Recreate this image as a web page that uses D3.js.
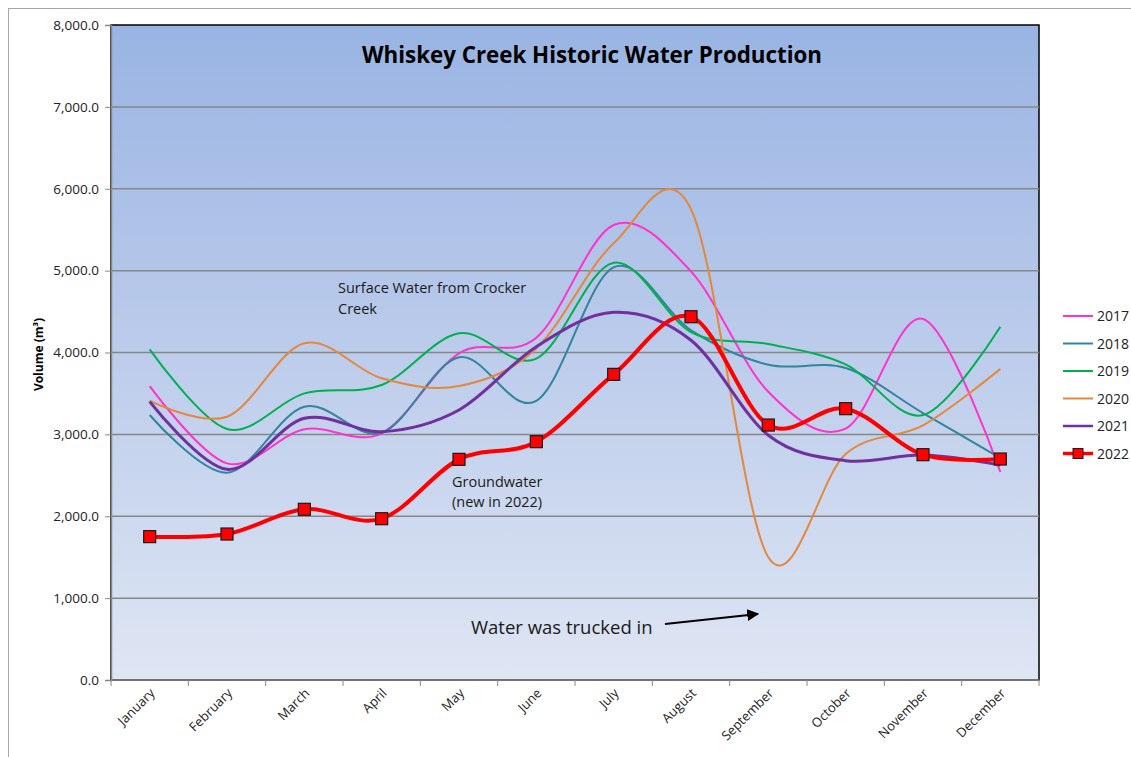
<!DOCTYPE html>
<html>
<head>
<meta charset="utf-8">
<script src="https://cdn.jsdelivr.net/npm/d3@7"></script>
<style>
  body { margin: 0; background: #fff; }
  text { font-family: "Open Sans", "Noto Sans", sans-serif; }
</style>
</head>
<body>
<div id="chart"></div>
<script>
// Whiskey Creek - production d'eau historique par mois

const months = ['January', 'February', 'March', 'April', 'May', 'June',
  'July', 'August', 'September', 'October', 'November', 'December'];

const years = ['2017', '2018', '2019', '2020', '2021', '2022'];

const v2017 = [3590, 2646, 3062, 3013, 3990, 4180, 5557, 4990, 3520, 3070, 4410, 2540];
const v2018 = [3237, 2532, 3338, 3021, 3941, 3410, 5040, 4270, 3850, 3810, 3260, 2710];
const v2019 = [4039, 3066, 3501, 3603, 4234, 3925, 5097, 4250, 4104, 3855, 3236, 4315];
const v2020 = [3412, 3216, 4112, 3685, 3591, 4050, 5334, 5750, 1500, 2760, 3110, 3800];
const v2021 = [3400, 2573, 3196, 3033, 3298, 4071, 4491, 4150, 2990, 2679, 2748, 2626];
const v2022 = [1751, 1783, 2085, 1970, 2695, 2911, 3733, 4437, 3114, 3314, 2752, 2699];

const yTicks = [0, 1000, 2000, 3000, 4000, 5000, 6000, 7000, 8000];

const seriesValues = [v2017, v2018, v2019, v2020, v2021, v2022];
const colors = ['#FF33CC', '#31859C', '#00B050', '#E3883C', '#7030A0', '#FF0000'];
const widths = [2, 2, 2, 2, 3, 4];

const W = 1131, H = 757;
const margin = { top: 25, left: 111, right: 92, bottom: 77 };
const width = W - margin.left - margin.right;   // 928
const height = H - margin.top - margin.bottom;  // 655

const svg = d3.select('#chart').append('svg')
  .attr('width', W)
  .attr('height', H);

// bordure du graphique
svg.append('rect')
  .attr('x', 8.5).attr('y', 8.5)
  .attr('width', W).attr('height', H)
  .attr('fill', '#fff')
  .attr('stroke', '#a6a6a6');

const defs = svg.append('defs');
const grad = defs.append('linearGradient')
  .attr('id', 'bg-grad')
  .attr('x1', '0%').attr('y1', '0%')
  .attr('x2', '0%').attr('y2', '100%');
grad.append('stop').attr('offset', '0%').attr('stop-color', '#99B4E3');
grad.append('stop').attr('offset', '50%').attr('stop-color', '#BCCCEB');
grad.append('stop').attr('offset', '100%').attr('stop-color', '#DFE6F4');

const g = svg.append('g')
  .attr('transform', `translate(${margin.left},${margin.top})`);

// Échelles
const x = d3.scaleBand()
  .domain(months)
  .range([0, width])
  .padding(0);

const y = d3.scaleLinear()
  .domain([0, 8000])
  .range([height, 0]);

// zone de tracé
g.append('rect')
  .attr('width', width)
  .attr('height', height)
  .attr('fill', 'url(#bg-grad)')
  .attr('stroke', '#000')
  .attr('stroke-width', 1.5);

// grille
g.append('g')
  .selectAll('line')
  .data(yTicks.slice(1, -1))
  .join('line')
  .attr('x1', 0).attr('x2', width)
  .attr('y1', d => y(d)).attr('y2', d => y(d))
  .attr('stroke', '#878787')
  .attr('stroke-width', 1.5);

// Axe Y
const yAxis = g.append('g')
  .call(d3.axisLeft(y).tickValues(yTicks).tickSize(6).tickPadding(6)
    .tickFormat(d3.format(',.1f')));
yAxis.select('.domain').attr('stroke', '#878787').attr('stroke-width', 1.5);
yAxis.selectAll('.tick line').attr('stroke', '#878787');
yAxis.selectAll('text')
  .style('font-size', '13.5px')
  .style('fill', '#222');

// Axe X (graduations entre les catégories)
const xAxis = g.append('g')
  .attr('transform', `translate(0,${height})`);
xAxis.append('line')
  .attr('x1', 0).attr('x2', width)
  .attr('stroke', '#878787').attr('stroke-width', 1.5);
xAxis.selectAll('.xtick')
  .data(d3.range(months.length + 1))
  .join('line')
  .attr('class', 'xtick')
  .attr('x1', i => i * x.step()).attr('x2', i => i * x.step())
  .attr('y1', 0).attr('y2', 6)
  .attr('stroke', '#878787');
xAxis.selectAll('.xlabel')
  .data(months)
  .join('text')
  .attr('class', 'xlabel')
  .attr('text-anchor', 'end')
  .attr('transform', d => `translate(${x(d) + x.bandwidth() / 2 + 6},${14}) rotate(-45)`)
  .style('font-size', '13px')
  .style('fill', '#222')
  .text(d => d);

// Titre de l'axe Y
svg.append('text')
  .attr('transform', `translate(43,${margin.top + y(4000) + 2}) rotate(-90)`)
  .attr('text-anchor', 'middle')
  .style('font-size', '12px')
  .style('font-weight', '700')
  .text('Volume (m³)');

// Titre
g.append('text')
  .attr('x', width / 2 + 17)
  .attr('y', 38)
  .attr('text-anchor', 'middle')
  .attr('textLength', 460)
  .attr('lengthAdjust', 'spacingAndGlyphs')
  .style('font-size', '24px')
  .style('font-weight', '700')
  .text('Whiskey Creek Historic Water Production');

// Courbes lissées
const line = d3.line()
  .x((d, i) => x(months[i]) + x.bandwidth() / 2)
  .y(d => y(d))
  .curve(d3.curveCatmullRom.alpha(0));

g.append('g')
  .selectAll('path')
  .data(seriesValues)
  .join('path')
  .attr('d', d => line(d))
  .attr('fill', 'none')
  .attr('stroke', (d, i) => colors[i])
  .attr('stroke-width', (d, i) => widths[i])
  .attr('stroke-linejoin', 'round');

// Marqueurs 2022
const ms = 12;
g.append('g')
  .selectAll('rect')
  .data(v2022)
  .join('rect')
  .attr('x', (d, i) => x(months[i]) + x.bandwidth() / 2 - ms / 2)
  .attr('y', d => y(d) - ms / 2)
  .attr('width', ms).attr('height', ms)
  .attr('fill', '#FF0000')
  .attr('stroke', '#1a1a1a')
  .attr('stroke-width', 1.2);

// Annotations
const note = (lines, px, py, size, lh) => {
  const t = g.append('text')
    .style('font-size', size + 'px')
    .style('fill', '#1a1a1a');
  lines.forEach((l, i) => {
    t.append('tspan').attr('x', px).attr('y', py + i * lh).text(l);
  });
};
note(['Surface Water from Crocker', 'Creek'], 338 - margin.left, 293 - margin.top, 14.5, 21);
note(['Groundwater', '(new in 2022)'], 452 - margin.left, 487 - margin.top, 14.5, 20);
note(['Water was trucked in'], 471 - margin.left, 634 - margin.top, 18.5, 0);

defs.append('marker')
  .attr('id', 'arrow')
  .attr('viewBox', '0 0 10 10')
  .attr('refX', 9).attr('refY', 5)
  .attr('markerWidth', 6).attr('markerHeight', 6)
  .attr('orient', 'auto')
  .append('path')
  .attr('d', 'M0,0 L10,5 L0,10 z')
  .attr('fill', '#000');

g.append('line')
  .attr('x1', 665 - margin.left).attr('y1', 624 - margin.top)
  .attr('x2', 758 - margin.left).attr('y2', 614 - margin.top)
  .attr('stroke', '#000')
  .attr('stroke-width', 2)
  .attr('marker-end', 'url(#arrow)');

// Légende
const legend = svg.append('g')
  .attr('transform', 'translate(1063,316)');
const row = legend.selectAll('g')
  .data(years)
  .join('g')
  .attr('transform', (d, i) => `translate(0,${i * 27.5})`);
row.append('line')
  .attr('x1', 0).attr('x2', 30)
  .attr('stroke', (d, i) => colors[i])
  .attr('stroke-width', (d, i) => widths[i] === 4 ? 3.5 : (widths[i] === 3 ? 2.5 : 2));
row.filter((d, i) => i === 5)
  .append('rect')
  .attr('x', 15 - 5).attr('y', -5)
  .attr('width', 10).attr('height', 10)
  .attr('fill', '#FF0000')
  .attr('stroke', '#1a1a1a');
row.append('text')
  .attr('x', 34)
  .attr('y', 5)
  .style('font-size', '14px')
  .style('fill', '#222')
  .text(d => d);
</script>
</body>
</html>
